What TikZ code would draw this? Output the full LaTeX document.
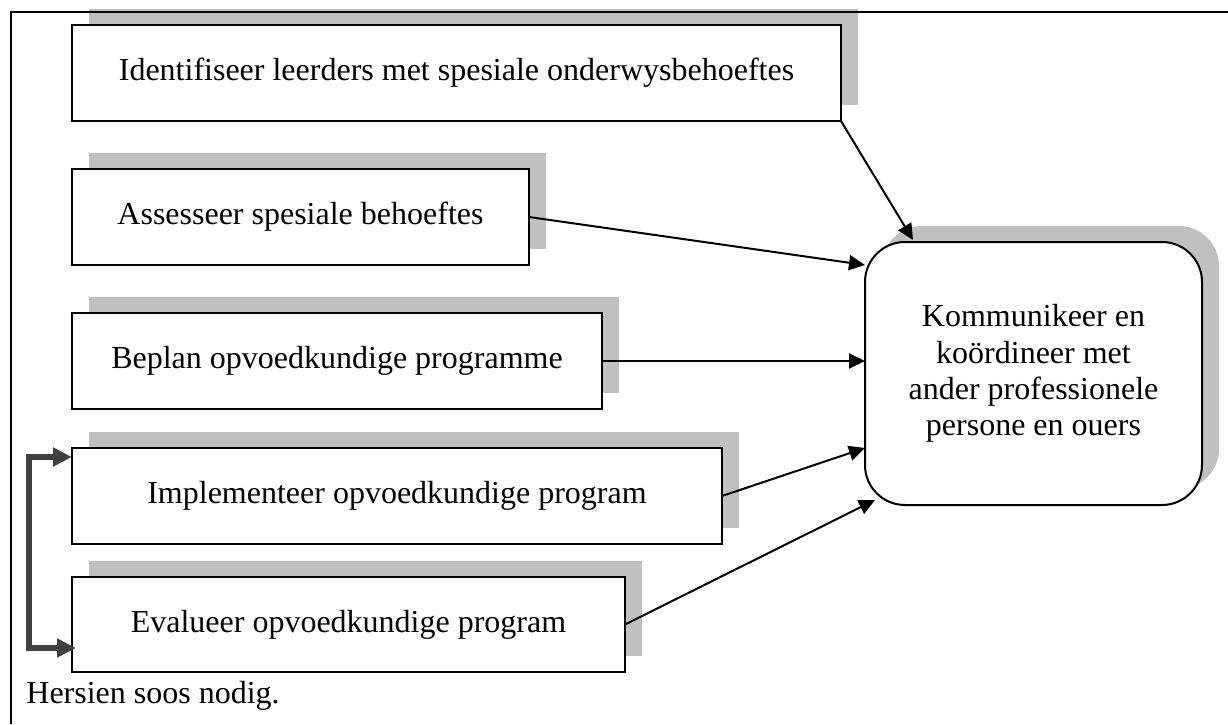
\documentclass[tikz,border=0pt]{standalone}
\usepackage{fontspec}
\setmainfont{Liberation Serif}
\usetikzlibrary{arrows.meta,calc,shadows}
\definecolor{shade}{HTML}{C0C0C0}
\definecolor{loopgray}{HTML}{404040}
\begin{document}
\begin{tikzpicture}[x=0.5pt,y=-0.5pt,
  every node/.style={font=\fontsize{16pt}{18.2pt}\selectfont},
  stepbox/.style={draw, line width=1pt, fill=white, inner sep=0pt, outer sep=0pt,
    anchor=north west,
    drop shadow={shadow xshift=8.5pt, shadow yshift=8pt, fill=shade, opacity=1}},
  conn/.style={line width=1pt, -{Triangle[length=8pt,width=7.5pt]}},
  cyclearrow/.style={line width=3pt, draw=loopgray, line join=miter,
    {Triangle[length=9.5pt,width=9pt]}-{Triangle[length=9.5pt,width=9pt]}},
  frame/.style={line width=1.1pt}
]
\useasboundingbox (0,0) rectangle (1228,724);

% the five steps
\node[stepbox, minimum width=384.5pt, minimum height=48pt] (b1) at (72,25)
  {Identifiseer leerders met spesiale onderwysbehoeftes};
\node[stepbox, minimum width=228.5pt, minimum height=48pt] (b2) at (72,169)
  {Assesseer spesiale behoeftes};
\node[stepbox, minimum width=265pt, minimum height=48pt] (b3) at (72,313)
  {Beplan opvoedkundige programme};
\node[stepbox, minimum width=325pt, minimum height=48pt] (b4) at (72,448)
  {Implementeer opvoedkundige program};
\node[stepbox, minimum width=276.5pt, minimum height=47.5pt] (b5) at (72,577)
  {Evalueer opvoedkundige program};

% central rounded box
\node[stepbox, rounded corners=20pt, minimum width=168.5pt, minimum height=131.5pt,
  align=center] (r) at (865,242)
  {Kommunikeer en\\koördineer met\\ander professionele\\persone en ouers};

% connectors into the central box
\draw[conn] (b1.south east) -- ($(r.north west)+(48,-2)$);
\draw[conn] (b2.east) -- ($(r.north west)+(0,23)$);
\draw[conn] (b3.east) -- (b3.east -| r.west);
\draw[conn] (b4.east) -- ($(r.north west)+(0,206)$);
\draw[conn] (b5.east) -- ($(r.south west)+(10,-5)$);

% review cycle between implementing and evaluating
\draw[cyclearrow] ($(b4.north west)+(0,9)$) -- ++(-43,0) |- ($(b5.north west)+(4,71)$);

% note
\node[anchor=base west, inner sep=0pt] (note) at (26,703) {Hersien soos nodig.};

% outer frame (top and left edges)
\draw[frame] (11,724) -- (11,12) -- (1228,12);
\end{tikzpicture}
\end{document}
